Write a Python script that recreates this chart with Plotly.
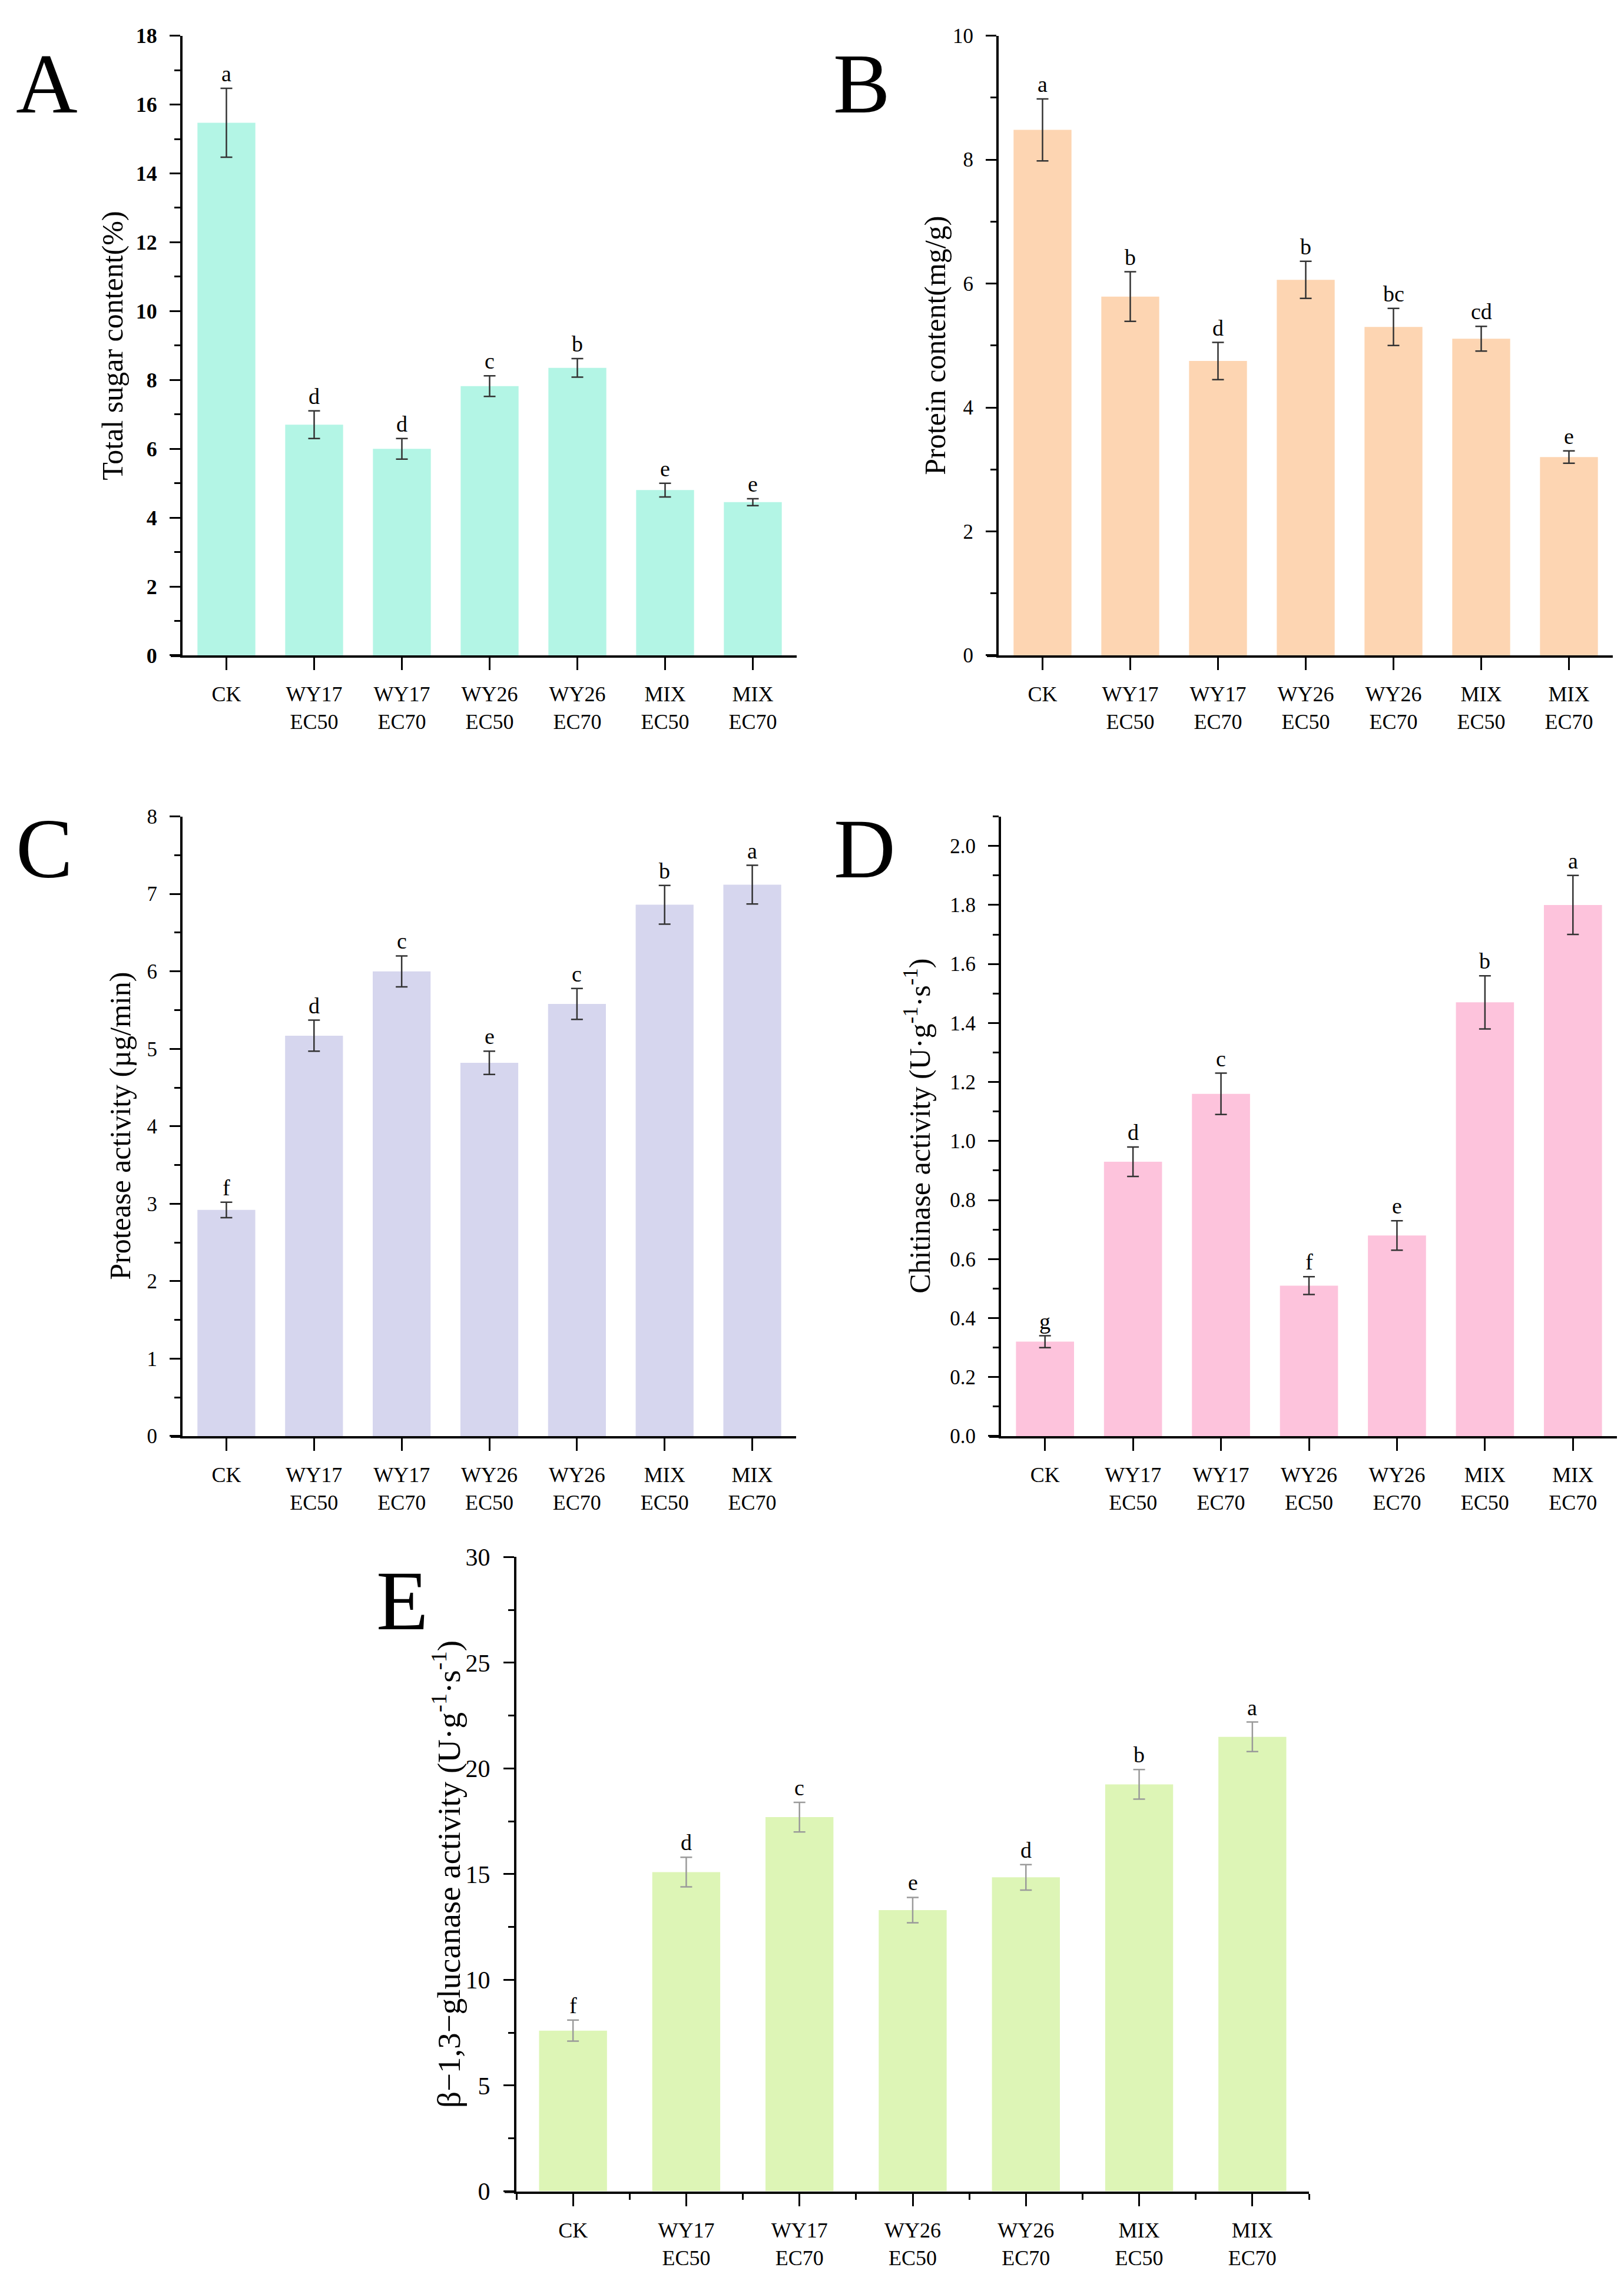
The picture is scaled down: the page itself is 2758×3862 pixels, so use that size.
import plotly.graph_objects as go

groups = ["CK", "WY17<br>EC50", "WY17<br>EC70", "WY26<br>EC50", "WY26<br>EC70", "MIX<br>EC50", "MIX<br>EC70"]

sugar = [15.47, 6.70, 6.00, 7.82, 8.35, 4.80, 4.45]
sugar_err = [1.0, 0.40, 0.30, 0.30, 0.27, 0.20, 0.10]
sugar_sig = ["a", "d", "d", "c", "b", "e", "e"]

protein = [8.48, 5.79, 4.75, 6.06, 5.30, 5.11, 3.20]
protein_err = [0.50, 0.40, 0.30, 0.30, 0.30, 0.20, 0.10]
protein_sig = ["a", "b", "d", "b", "bc", "cd", "e"]

protease = [2.92, 5.17, 6.00, 4.82, 5.58, 6.86, 7.12]
protease_err = [0.10, 0.20, 0.20, 0.15, 0.20, 0.25, 0.25]
protease_sig = ["f", "d", "c", "e", "c", "b", "a"]

chitinase = [0.32, 0.93, 1.16, 0.51, 0.68, 1.47, 1.80]
chitinase_err = [0.02, 0.05, 0.07, 0.03, 0.05, 0.09, 0.10]
chitinase_sig = ["g", "d", "c", "f", "e", "b", "a"]

glucanase = [7.6, 15.1, 17.7, 13.3, 14.85, 19.25, 21.5]
glucanase_err = [0.5, 0.7, 0.7, 0.6, 0.6, 0.7, 0.7]
glucanase_sig = ["f", "d", "c", "e", "d", "b", "a"]

W, H = 2758, 3862
FONT = "Liberation Serif"

panels = [
    dict(tag="A", y=sugar, e=sugar_err, s=sugar_sig, color="#b3f5e5", title="Total sugar content(%)",
         yr=[0, 18], dt=2, mn=1, x=(302, 1345), yp=(31, 1096), lp=(71, 113), tx=183, bold=True,
         bw=0.66, ecol="#333333", tf=36, ts=50, fmt="", xminor=False),
    dict(tag="B", y=protein, e=protein_err, s=protein_sig, color="#fdd5b2", title="Protein content(mg/g)",
         yr=[0, 10], dt=2, mn=1, x=(1688, 2731), yp=(31, 1096), lp=(1455, 113), tx=1580, bold=False,
         bw=0.66, ecol="#333333", tf=35, ts=50, fmt="", xminor=False),
    dict(tag="C", y=protease, e=protease_err, s=protease_sig, color="#d6d6ee", title="Protease activity (µg/min)",
         yr=[0, 8], dt=1, mn=0.5, x=(302, 1344), yp=(1373, 2438), lp=(67, 1428), tx=196, bold=False,
         bw=0.66, ecol="#333333", tf=35, ts=50, fmt="", xminor=False),
    dict(tag="D", y=chitinase, e=chitinase_err, s=chitinase_sig, color="#fdc3dc",
         title="Chitinase activity (U·g<sup>-1</sup>·s<sup>-1</sup>)",
         yr=[0, 2.1], dt=0.2, mn=0.1, x=(1692, 2738), yp=(1373, 2438), lp=(1460, 1428), tx=1551, bold=False,
         bw=0.66, ecol="#333333", tf=35, ts=50, fmt=".1f", xminor=False),
    dict(tag="E", y=glucanase, e=glucanase_err, s=glucanase_sig, color="#ddf5b6",
         title="β−1,3−glucanase activity (U·g<sup>-1</sup>·s<sup>-1</sup>)",
         yr=[0, 30], dt=5, mn=2.5, x=(869, 2215), yp=(2646, 3736), lp=(675, 2720), tx=751, bold=False,
         bw=0.6, ecol="#9a9a9a", tf=42, ts=55, fmt="", xminor=True),
]

fig = go.Figure()
xpos = list(range(len(groups)))
mids = [k - 0.5 for k in range(len(groups) + 1)]

for i, p in enumerate(panels, start=1):
    xa = "x" if i == 1 else f"x{i}"
    ya = "y" if i == 1 else f"y{i}"
    fig.add_trace(go.Bar(
        x=xpos, y=p["y"], width=p["bw"], marker=dict(color=p["color"], line=dict(width=0)),
        error_y=dict(type="data", array=p["e"], color=p["ecol"], thickness=2.5, width=10),
        xaxis=xa, yaxis=ya, showlegend=False,
    ))
    for k in range(len(groups)):
        fig.add_annotation(x=k, y=p["y"][k] + p["e"][k], xref=xa, yref=ya, text=p["s"][k],
                           showarrow=False, yanchor="bottom", yshift=2,
                           font=dict(family=FONT, size=38, color="black"))

    xd = [p["x"][0] / W, p["x"][1] / W]
    yd = [1 - p["yp"][1] / H, 1 - p["yp"][0] / H]
    tickfont = dict(family=FONT, size=p["tf"], color="black", weight="bold" if p["bold"] else "normal")
    xaxis = dict(
        domain=xd, anchor=ya, range=[-0.5, 6.5], tickvals=xpos, ticktext=groups,
        showline=True, linecolor="black", linewidth=4, ticks="outside", ticklen=21,
        tickwidth=3, tickcolor="black", showgrid=False, zeroline=False,
        tickfont=dict(family=FONT, size=36, color="black"), ticklabelstandoff=10)
    if p["xminor"]:
        xaxis["minor"] = dict(tickmode="array", tickvals=mids, ticks="outside", ticklen=10,
                              tickwidth=3, tickcolor="black")
    fig.update_layout(**{
        ("xaxis" if i == 1 else f"xaxis{i}"): xaxis,
        ("yaxis" if i == 1 else f"yaxis{i}"): dict(
            domain=yd, anchor=xa, range=p["yr"], dtick=p["dt"], tick0=0, tickformat=p["fmt"],
            showline=True, linecolor="black", linewidth=4, ticks="outside", ticklen=18,
            tickwidth=3, tickcolor="black", showgrid=False, zeroline=False,
            minor=dict(dtick=p["mn"], ticks="outside", ticklen=10, tickwidth=3, tickcolor="black"),
            tickfont=tickfont, ticklabelstandoff=14),
    })
    # x-axis line sticks out a little to the left of the y-axis
    fig.add_shape(type="line", xref="paper", yref="paper", x0=xd[0] - 20 / W, x1=xd[0],
                  y0=yd[0] - 1 / H, y1=yd[0] - 1 / H, line=dict(color="black", width=4))
    # y-axis title
    fig.add_annotation(x=p["tx"] / W, y=(yd[0] + yd[1]) / 2, xref="paper", yref="paper",
                       text=p["title"], textangle=-90, showarrow=False,
                       xanchor="center", yanchor="middle",
                       font=dict(family=FONT, size=p["ts"], color="black"))
    # panel letter
    fig.add_annotation(x=p["lp"][0] / W, y=1 - p["lp"][1] / H, xref="paper", yref="paper",
                       text=p["tag"], showarrow=False, xanchor="center", yanchor="middle",
                       font=dict(family=FONT, size=145, color="black"))

fig.update_layout(width=W, height=H, margin=dict(l=0, r=0, t=0, b=0),
                  plot_bgcolor="white", paper_bgcolor="white")

fig.write_html("out.html")
